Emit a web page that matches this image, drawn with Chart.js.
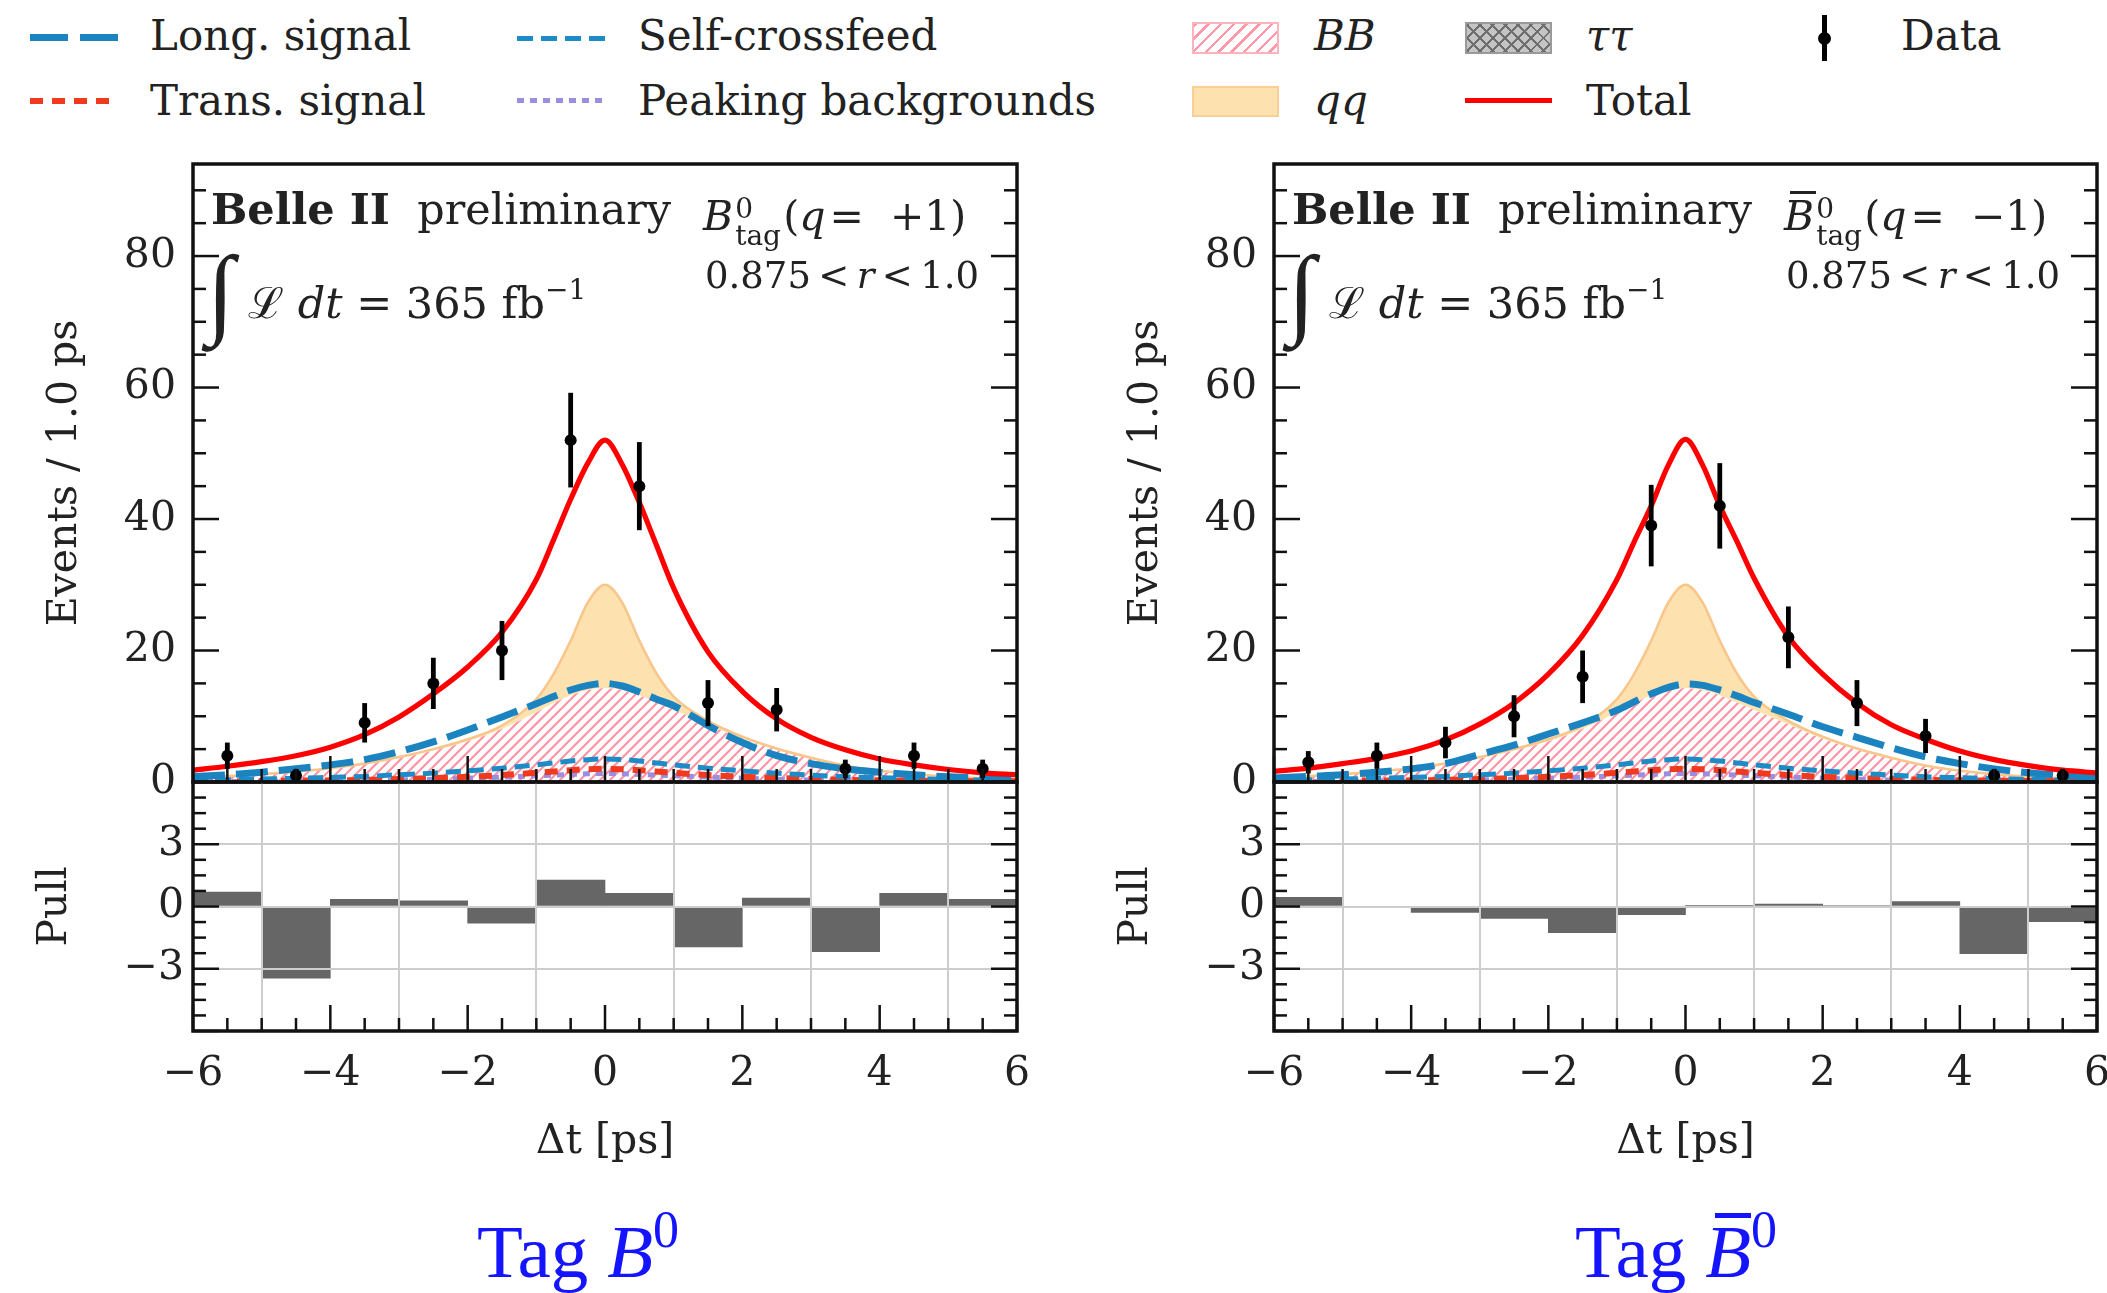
<!DOCTYPE html>
<html>
<head>
<meta charset="utf-8">
<title>Belle II Δt fit</title>
<script src="https://cdn.jsdelivr.net/npm/chart.js@4.4.1/dist/chart.umd.min.js"></script>
<style>
  html, body { margin: 0; padding: 0; background: #fff; }
  body { position: relative; width: 2107px; height: 1293px; overflow: hidden; font-family: 'DejaVu Serif', serif; color: #222; }
  canvas { position: absolute; }
  .t { position: absolute; white-space: nowrap; line-height: 1; font-size: 42px; }
  .sym { position: absolute; box-sizing: border-box; }
  .tag { position: absolute; white-space: nowrap; line-height: 1; font-family: 'Liberation Serif', serif; font-size: 75px; color: #1414ff; }
  .ss { display: inline-block; position: relative; width: 50px; height: 41px; }
  .ss span { position: absolute; left: 2px; font-size: 28px; }
  .int { position: absolute; line-height: 1; font-family: 'Liberation Serif', serif; font-size: 100px; }
  .bar { position: relative; }
  .bar span { position: absolute; height: 3px; }
</style>
</head>
<body>

<!-- legend -->
<div class="sym" style="left:30px;top:34px;width:88px;height:7px;background:repeating-linear-gradient(90deg,#1a83c0 0 38px,transparent 38px 50px)"></div>
<div class="t" style="left:150px;top:15px">Long. signal</div>
<div class="sym" style="left:30px;top:98px;width:88px;height:6px;background:repeating-linear-gradient(90deg,#f03a20 0 13px,transparent 13px 22px)"></div>
<div class="t" style="left:150px;top:80px">Trans. signal</div>
<div class="sym" style="left:517px;top:36px;width:88px;height:5px;background:repeating-linear-gradient(90deg,#1d8bc6 0 16px,transparent 16px 24px)"></div>
<div class="t" style="left:638px;top:15px">Self-crossfeed</div>
<div class="sym" style="left:517px;top:98px;width:88px;height:5px;background:repeating-linear-gradient(90deg,#9b8de0 0 7px,transparent 7px 13px)"></div>
<div class="t" style="left:638px;top:80px">Peaking backgrounds</div>
<div class="sym" style="left:1192px;top:22px;width:87px;height:32px;border:2px solid #ffb3bd;background:repeating-linear-gradient(135deg,#ff98a8 0 2.5px,#fff 2.5px 9px)"></div>
<div class="t" style="left:1314px;top:15px"><i>BB</i></div>
<div class="sym" style="left:1192px;top:86px;width:87px;height:31px;border:2px solid #f9cf95;background:#fde2b0"></div>
<div class="t" style="left:1314px;top:80px"><i>qq</i></div>
<div class="sym" style="left:1465px;top:22px;width:87px;height:32px;border:2px solid #9a9a9a;background:repeating-linear-gradient(45deg,#6e6e6e 0 2px,transparent 2px 9px),repeating-linear-gradient(135deg,#6e6e6e 0 2px,transparent 2px 9px),#c4c4c4"></div>
<div class="t" style="left:1586px;top:15px"><i>ττ</i></div>
<div class="sym" style="left:1465px;top:98px;width:87px;height:5px;background:#ff0000"></div>
<div class="t" style="left:1586px;top:80px">Total</div>
<div class="sym" style="left:1822px;top:15px;width:5px;height:46px;background:#000"></div>
<div class="sym" style="left:1818px;top:32px;width:13px;height:13px;border-radius:50%;background:#000"></div>
<div class="t" style="left:1901px;top:15px">Data</div>

<canvas id="mainL" width="1040" height="690" style="left:0;top:120px"></canvas>
<canvas id="pullL" width="1040" height="403" style="left:0;top:772px"></canvas>
<canvas id="mainR" width="1026" height="690" style="left:1081px;top:120px"></canvas>
<canvas id="pullR" width="1026" height="403" style="left:1081px;top:772px"></canvas>

<!-- panel texts, left -->
<div class="t" style="left:211px;top:188px;font-size:43px"><b>Belle II</b>&nbsp; preliminary</div>
<div class="t" style="left:703px;top:189px;font-size:41px"><i>B</i><span class="ss"><span style="top:6px">0</span><span style="top:33px">tag</span></span>(<i>q</i>&#8202;=&nbsp;&nbsp;+1)</div>
<div class="t" style="left:705px;top:257px;font-size:37px">0.875&#8201;&lt;&#8201;<i>r</i>&#8201;&lt;&#8201;1.0</div>
<div class="int" style="left:207px;top:242px">∫</div>
<div class="t" style="left:248px;top:282px;font-size:43px">ℒ <i>dt</i> = 365 fb<span style="font-size:28px;position:relative;top:-19px">−1</span></div>

<!-- panel texts, right -->
<div class="t" style="left:1292px;top:188px;font-size:43px"><b>Belle II</b>&nbsp; preliminary</div>
<div class="t" style="left:1784px;top:189px;font-size:41px"><i class="bar">B<span style="left:6px;top:-1px;width:26px;background:#222"></span></i><span class="ss"><span style="top:6px">0</span><span style="top:33px">tag</span></span>(<i>q</i>&#8202;=&nbsp;&nbsp;−1)</div>
<div class="t" style="left:1786px;top:257px;font-size:37px">0.875&#8201;&lt;&#8201;<i>r</i>&#8201;&lt;&#8201;1.0</div>
<div class="int" style="left:1288px;top:242px">∫</div>
<div class="t" style="left:1329px;top:282px;font-size:43px">ℒ <i>dt</i> = 365 fb<span style="font-size:28px;position:relative;top:-19px">−1</span></div>

<div class="tag" style="left:477px;top:1214px">Tag <i>B</i><span style="font-size:52px;position:relative;top:-30px">0</span></div>
<div class="tag" style="left:1575px;top:1214px">Tag <i class="bar">B<span style="left:10px;top:3px;width:36px;height:5px;background:#1414ff"></span></i><span style="font-size:52px;position:relative;top:-30px">0</span></div>

<script>
// fit curves
const dtGrid = [-6, -5.5, -5, -4.5, -4, -3.5, -3, -2.5, -2, -1.5, -1, -0.75, -0.5, -0.25, 0, 0.25, 0.5, 0.75, 1, 1.5, 2, 2.5, 3, 3.5, 4, 4.5, 5, 5.5, 6];
const totalB0 = [1.8, 2.4, 3.1, 4.0, 5.3, 7.2, 9.9, 13.4, 17.5, 22.8, 30.8, 36.8, 43.0, 48.5, 52.0, 48.3, 42.5, 36.0, 29.5, 19.8, 13.8, 9.6, 6.8, 4.9, 3.5, 2.6, 1.9, 1.4, 1.1];
const totalB0bar = [1.6, 2.1, 2.8, 3.6, 4.7, 6.4, 8.8, 12.0, 16.4, 22.3, 30.8, 36.5, 42.0, 48.2, 52.1, 48.2, 42.0, 36.6, 31.0, 22.1, 16.4, 12.0, 8.7, 6.5, 4.7, 3.4, 2.5, 1.8, 1.4];
const longB0 = [0.8, 1.1, 1.5, 2.0, 2.6, 3.4, 4.6, 6.1, 7.9, 9.9, 11.9, 13.0, 14.0, 14.7, 15.0, 14.6, 13.7, 12.6, 11.6, 8.6, 6.0, 4.0, 2.8, 2.0, 1.5, 1.1, 0.8, 0.6, 0.45];
const longB0bar = [0.6, 0.85, 1.1, 1.5, 2.0, 2.8, 4.2, 5.6, 7.3, 9.0, 10.9, 12.2, 13.4, 14.4, 14.9, 14.7, 14.0, 13.1, 12.1, 10.3, 8.4, 6.8, 5.2, 3.8, 2.8, 2.0, 1.4, 1.0, 0.7];
const selfCrossfeed = [0.3, 0.35, 0.45, 0.55, 0.7, 0.85, 1.1, 1.35, 1.7, 2.1, 2.6, 2.9, 3.2, 3.4, 3.5, 3.4, 3.2, 2.9, 2.6, 2.1, 1.7, 1.35, 1.05, 0.8, 0.65, 0.5, 0.4, 0.3, 0.25];
const transSignal = [0.1, 0.12, 0.15, 0.2, 0.25, 0.33, 0.45, 0.6, 0.8, 1.05, 1.4, 1.6, 1.8, 1.95, 2.0, 1.95, 1.8, 1.6, 1.4, 1.05, 0.8, 0.6, 0.45, 0.33, 0.25, 0.2, 0.15, 0.12, 0.1];
const peakingBkg = [0.05, 0.07, 0.09, 0.12, 0.16, 0.22, 0.3, 0.42, 0.58, 0.75, 0.95, 1.05, 1.15, 1.25, 1.3, 1.25, 1.15, 1.05, 0.95, 0.75, 0.58, 0.42, 0.3, 0.22, 0.16, 0.12, 0.09, 0.07, 0.05];
const bbComp = [0.5, 0.8, 1.1, 1.5, 2.0, 2.7, 3.6, 4.8, 6.2, 8.1, 10.6, 12.0, 13.2, 14.0, 14.3, 14.0, 13.2, 12.1, 11.0, 8.8, 6.6, 4.9, 3.5, 2.4, 1.6, 1.1, 0.7, 0.5, 0.3];
const qqComp = [0.1, 0.1, 0.1, 0.1, 0.1, 0.1, 0.2, 0.2, 0.3, 0.5, 2.0, 4.4, 8.3, 13.3, 15.7, 13.3, 8.3, 4.4, 2.0, 0.5, 0.3, 0.2, 0.2, 0.1, 0.1, 0.1, 0.1, 0.1, 0.1];

// binned data, 1 ps bins
const binCenters = [-5.5, -4.5, -3.5, -2.5, -1.5, -0.5, 0.5, 1.5, 2.5, 3.5, 4.5, 5.5];
const dataB0 = [4, 1, 9, 15, 20, 52, 45, 12, 11, 2, 4, 2];
const errB0 = [2, 1, 3, 3.9, 4.5, 7.2, 6.7, 3.5, 3.3, 1.4, 2, 1.4];
const pullB0 = [0.7, -3.45, 0.35, 0.27, -0.8, 1.27, 0.63, -1.95, 0.4, -2.18, 0.63, 0.34];
const dataB0bar = [3, 4, 6, 10, 16, 39, 42, 22, 12, 7, 1, 1];
const errB0bar = [1.7, 2, 2.4, 3.2, 4, 6.2, 6.5, 4.7, 3.5, 2.6, 1, 1];
const pullB0bar = [0.44, 0.0, -0.29, -0.58, -1.26, -0.39, 0.02, 0.12, 0.05, 0.24, -2.27, -0.73];

const mainYTicks = [0, 20, 40, 60, 80];
const pullYTicks = [-3, 0, 3];

const FONT = "'DejaVu Serif', serif";
const INK = '#222';

function xy(xs, ys) { return xs.map((x, i) => ({x: x, y: ys[i]})); }
function minus(v) { return String(v).replace('-', '\u2212'); }
// keep tick labels from pushing the plot area around
function noPad(s) { s.paddingTop = 0; s.paddingBottom = 0; s.paddingLeft = 0; s.paddingRight = 0; }

function hatch() {
  const c = document.createElement('canvas');
  c.width = 10; c.height = 10;
  const g = c.getContext('2d');
  g.strokeStyle = '#ff94a5';
  g.lineWidth = 2.2;
  g.beginPath();
  g.moveTo(0, 10); g.lineTo(10, 0);
  g.moveTo(-5, 5); g.lineTo(5, -5);
  g.moveTo(5, 15); g.lineTo(15, 5);
  g.stroke();
  return g.createPattern(c, 'repeat');
}

// spines + inward ticks (matplotlib look)
const frameTicks = {
  id: 'frameTicks',
  afterDraw(chart, args, o) {
    const {ctx, chartArea: a} = chart;
    const xs = chart.scales.x, ys = chart.scales.y;
    ctx.save();
    ctx.strokeStyle = '#111';
    ctx.lineWidth = 2.5;
    const line = (x1, y1, x2, y2) => { ctx.beginPath(); ctx.moveTo(x1, y1); ctx.lineTo(x2, y2); ctx.stroke(); };
    for (let v = -6; v <= 6.001; v += 0.5) {
      const px = xs.getPixelForValue(v);
      const len = Math.abs(v % 2) < 1e-6 ? 26 : 13;
      line(px, a.bottom, px, a.bottom - len);
    }
    for (let v = o.yFrom; v <= o.yTo + 1e-6; v += o.yMinor) {
      const py = ys.getPixelForValue(v);
      const r = v / o.yMajor;
      const len = Math.abs(r - Math.round(r)) < 1e-6 ? 26 : 13;
      line(a.left, py, a.left + len, py);
      line(a.right, py, a.right - len, py);
    }
    ctx.lineWidth = 3.5;
    ctx.strokeRect(a.left, a.top, a.right - a.left, a.bottom - a.top);
    ctx.restore();
  }
};

// vertical error bars on the data points (dataset 0)
const errorBars = {
  id: 'errorBars',
  beforeDatasetDraw(chart, args, o) {
    if (args.index !== 0) return;
    const {ctx} = chart;
    const xs = chart.scales.x, ys = chart.scales.y;
    ctx.save();
    ctx.strokeStyle = '#000';
    ctx.lineWidth = 4.8;
    chart.data.datasets[0].data.forEach((p, i) => {
      const px = xs.getPixelForValue(p.x);
      ctx.beginPath();
      ctx.moveTo(px, ys.getPixelForValue(Math.max(0, p.y - o.err[i])));
      ctx.lineTo(px, ys.getPixelForValue(p.y + o.err[i]));
      ctx.stroke();
    });
    ctx.restore();
  }
};

function curve(label, ys, color, width, dash, order) {
  return {
    label: label, data: xy(dtGrid, ys), borderColor: color, borderWidth: width,
    borderDash: dash, pointRadius: 0, fill: false, cubicInterpolationMode: 'monotone', order: order
  };
}

function makeMain(id, padRight, counts, errs, total, longSig) {
  const qqTop = bbComp.map((b, i) => b + qqComp[i]);
  new Chart(document.getElementById(id), {
    type: 'line',
    data: {
      datasets: [
        {label: 'Data', data: xy(binCenters, counts), showLine: false, pointRadius: 6, pointBackgroundColor: '#000', pointBorderWidth: 0, order: 0},
        curve('Total', total, '#ff0000', 5.2, [], 1),
        curve('Long. signal', longSig, '#1a83c0', 7, [32, 11], 2),
        curve('Self-crossfeed', selfCrossfeed, '#1d8bc6', 5, [15, 8], 3),
        curve('Trans. signal', transSignal, '#f03a20', 6, [13, 9], 4),
        curve('Peaking backgrounds', peakingBkg, '#9b8de0', 5, [7, 6], 5),
        {label: 'BB', data: xy(dtGrid, bbComp), borderColor: 'transparent', borderWidth: 0, backgroundColor: hatch(),
         fill: 'origin', pointRadius: 0, cubicInterpolationMode: 'monotone', order: 7},
        {label: 'qq', data: xy(dtGrid, qqTop), borderColor: '#f8c68a', borderWidth: 2.5, backgroundColor: '#fde2b0',
         fill: '-1', pointRadius: 0, cubicInterpolationMode: 'monotone', order: 6}
      ]
    },
    options: {
      responsive: false,
      animation: false,
      layout: {padding: {top: 44, right: padRight, bottom: 28, left: 0}},
      plugins: {
        legend: {display: false},
        tooltip: {enabled: false},
        frameTicks: {yFrom: 0, yTo: 90, yMinor: 5, yMajor: 20},
        errorBars: {err: errs}
      },
      scales: {
        x: {type: 'linear', min: -6, max: 6, display: false},
        y: {
          min: 0, max: 94,
          afterBuildTicks: s => { s.ticks = mainYTicks.map(v => ({value: v})); },
          afterFit: s => { s.width = 193; noPad(s); },
          grid: {display: false},
          border: {display: false},
          ticks: {color: INK, padding: 9, font: {family: FONT, size: 41}, callback: minus},
          title: {display: true, text: 'Events / 1.0 ps', color: INK, padding: {top: 41, bottom: 0}, font: {family: FONT, size: 41}}
        }
      }
    },
    plugins: [frameTicks, errorBars]
  });
}

function makePull(id, padRight, pulls) {
  new Chart(document.getElementById(id), {
    type: 'bar',
    data: {
      datasets: [{label: 'Pull', data: xy(binCenters, pulls), backgroundColor: '#666666', borderWidth: 0,
                  barPercentage: 1, categoryPercentage: 1}]
    },
    options: {
      responsive: false,
      animation: false,
      layout: {padding: {top: 10, right: padRight, bottom: 0, left: 0}},
      plugins: {
        legend: {display: false},
        tooltip: {enabled: false},
        frameTicks: {yFrom: -6, yTo: 6, yMinor: 0.75, yMajor: 3}
      },
      scales: {
        x: {
          type: 'linear', min: -6, max: 6, offset: false,
          afterFit: s => { s.height = 144; noPad(s); },
          grid: {color: '#cdcdcd', lineWidth: 2, drawTicks: false, z: 1},
          border: {display: false},
          ticks: {stepSize: 2, color: INK, padding: 19, font: {family: FONT, size: 41}, callback: minus},
          title: {display: true, text: 'Δt [ps]', color: INK, padding: {top: 0, bottom: 8}, font: {family: FONT, size: 41}}
        },
        y: {
          min: -6, max: 6,
          afterBuildTicks: s => { s.ticks = pullYTicks.map(v => ({value: v})); },
          afterFit: s => { s.width = 193; noPad(s); },
          grid: {color: '#cdcdcd', lineWidth: 2, drawTicks: false, z: 1},
          border: {display: false},
          ticks: {color: INK, padding: 9, font: {family: FONT, size: 41}, callback: minus},
          title: {display: true, text: 'Pull', color: INK, padding: {top: 31, bottom: 0}, font: {family: FONT, size: 41}}
        }
      }
    },
    plugins: [frameTicks]
  });
}

makeMain('mainL', 23, dataB0, errB0, totalB0, longB0);
makePull('pullL', 23, pullB0);
makeMain('mainR', 10, dataB0bar, errB0bar, totalB0bar, longB0bar);
makePull('pullR', 10, pullB0bar);
</script>
</body>
</html>
